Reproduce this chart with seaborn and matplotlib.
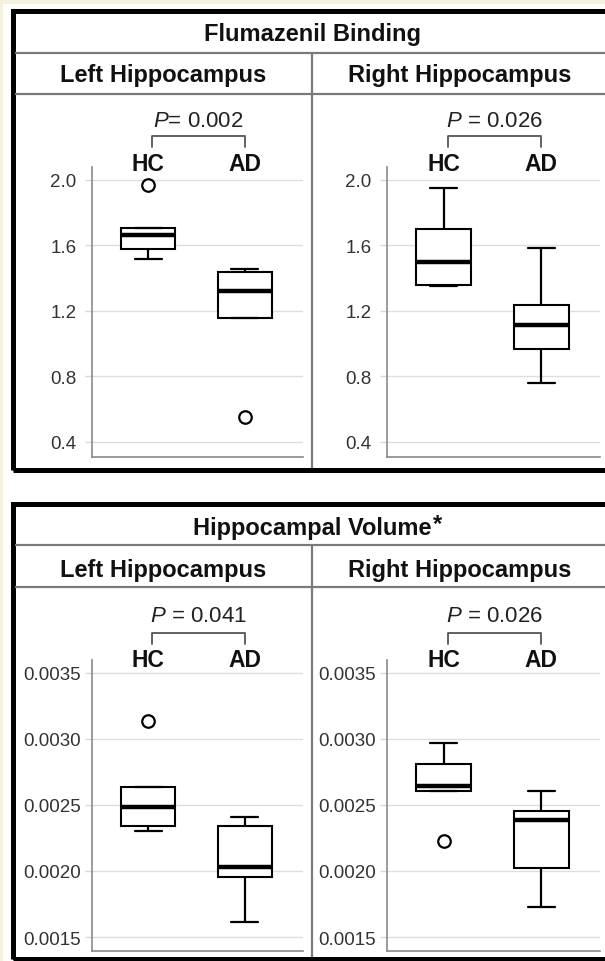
import matplotlib
matplotlib.use('Agg')
import matplotlib.pyplot as plt
import matplotlib.transforms as mtransforms
from matplotlib.patches import Rectangle
from matplotlib.lines import Line2D
import seaborn as sns
import pandas as pd

# ---------------- data ----------------
groups = ["HC", "AD"]
sides = ["Left Hippocampus", "Right Hippocampus"]
measures = ["Flumazenil Binding", "Hippocampal Volume"]

flu_left_hc = [1.517, 1.55, 1.58, 1.62, 1.664, 1.69, 1.707, 1.707, 1.97]
flu_left_ad = [0.553, 1.157, 1.157, 1.25, 1.32, 1.38, 1.44, 1.45, 1.456]
flu_right_hc = [1.35, 1.355, 1.36, 1.42, 1.50, 1.60, 1.70, 1.82, 1.951]
flu_right_ad = [0.76, 0.88, 0.968, 1.05, 1.114, 1.18, 1.236, 1.40, 1.585]

vol_left_hc = [0.002303, 0.00232, 0.002341, 0.00242, 0.002485, 0.00256, 0.002636, 0.002636, 0.003136]
vol_left_ad = [0.001614, 0.00180, 0.001955, 0.00199, 0.00203, 0.00220, 0.002341, 0.00238, 0.002409]
vol_right_hc = [0.002225, 0.002607, 0.002607, 0.00262, 0.002645, 0.00272, 0.002813, 0.00289, 0.002966]
vol_right_ad = [0.001729, 0.00190, 0.002019, 0.00220, 0.002385, 0.00242, 0.002454, 0.00253, 0.002607]

p_labels = [["$\\mathit{P}$= 0.002", "$\\mathit{P}$ = 0.026"],
            ["$\\mathit{P}$ = 0.041", "$\\mathit{P}$ = 0.026"]]

flu_ticks = [0.4, 0.8, 1.2, 1.6, 2.0]
vol_ticks = [0.0015, 0.0020, 0.0025, 0.0030, 0.0035]

series = {
    (0, 0): (flu_left_hc, flu_left_ad),
    (0, 1): (flu_right_hc, flu_right_ad),
    (1, 0): (vol_left_hc, vol_left_ad),
    (1, 1): (vol_right_hc, vol_right_ad),
}
rows = []
for (m, s), (hc, ad) in series.items():
    for g, vals in zip(groups, (hc, ad)):
        for v in vals:
            rows.append({"measure": measures[m], "side": sides[s], "group": g, "value": v})
df = pd.DataFrame(rows)

# ---------------- style ----------------
sns.set_theme(style="white")
plt.rcParams['font.family'] = ['Liberation Sans', 'DejaVu Sans']
plt.rcParams['mathtext.fontset'] = 'custom'
plt.rcParams['mathtext.it'] = 'Liberation Sans:italic'
plt.rcParams['mathtext.rm'] = 'Liberation Sans'

W, H = 605, 962
fig = plt.figure(figsize=(W / 100, H / 100), dpi=100, facecolor='white')


def fx(px):
    return px / W


def fy(py):
    return 1 - py / H


def pt(px):
    return px * 72 / 100


def hline(x0, x1, y, color, lw):
    fig.add_artist(Line2D([fx(x0), fx(x1)], [fy(y), fy(y)], transform=fig.transFigure,
                          color=color, lw=pt(lw), solid_capstyle='butt'))


def vline(x, y0, y1, color, lw):
    fig.add_artist(Line2D([fx(x), fx(x)], [fy(y0), fy(y1)], transform=fig.transFigure,
                          color=color, lw=pt(lw), solid_capstyle='butt'))


cream = '#F5F1E1'
fig.add_artist(Rectangle((0, 0), fx(3), 1, transform=fig.transFigure, color=cream, lw=0))
fig.add_artist(Rectangle((0, fy(5)), 1, 5 / H, transform=fig.transFigure, color=cream, lw=0))

sep = '#7a7a7a'
panels = [dict(top=11.5, bottom=470.5, title_sep=53.5, sub_sep=95, title_y=41, sub_y=82),
          dict(top=505, bottom=960, title_sep=546, sub_sep=588, title_y=535, sub_y=577)]
for p in panels:
    fig.add_artist(Rectangle((fx(12.5), fy(p['bottom'])), fx(610 - 12.5), (p['bottom'] - p['top']) / H,
                             transform=fig.transFigure, fill=False, edgecolor='black', lw=pt(5)))
    hline(15, 605, p['title_sep'], sep, 2.2)
    hline(15, 605, p['sub_sep'], sep, 2.2)
    vline(312, p['title_sep'], p['bottom'] - 2, sep, 2.2)

# titles
fig.text(fx(312), fy(panels[0]['title_y']), measures[0], ha='center', va='baseline',
         fontsize=17, fontweight='bold', color='#111')
t2 = fig.text(fx(312), fy(panels[1]['title_y']), measures[1], ha='center', va='baseline',
              fontsize=17, fontweight='bold', color='#111')
fig.canvas.draw()
bb = t2.get_window_extent(renderer=fig.canvas.get_renderer())
fig.text(bb.x1 / W + fx(1.5), fy(panels[1]['title_y'] - 4), "*", ha='left', va='baseline',
         fontsize=17, fontweight='bold', color='#111')

col_centers = [163, 460]
for p in panels:
    for c, s in zip(col_centers, sides):
        fig.text(fx(c), fy(p['sub_y']), s, ha='center', va='baseline',
                 fontsize=17, fontweight='bold', color='#111')

# axes geometry (pixels)
col_x = [(92, 303), (387, 600)]
row_y = [(168, 458), (661, 952)]
ylims = [(0.308, 2.079), (0.001394, 0.003598)]
yticks = [flu_ticks, vol_ticks]
yfmt = ["{:.1f}", "{:.4f}"]
label_base = [171, 667]
bracket_y = [(137, 148), (634, 645)]
p_base = [127, 622]
tick_pad = [6, 3]

for r in range(2):
    for c in range(2):
        x0, x1 = col_x[c]
        y0, y1 = row_y[r]
        ax = fig.add_axes([fx(x0), fy(y1), (x1 - x0) / W, (y1 - y0) / H])
        sub = df[(df.measure == measures[r]) & (df.side == sides[c])]
        sns.boxplot(data=sub, x="group", y="value", order=groups, ax=ax,
                    width=0.56, color='white', linecolor='black', linewidth=1.5,
                    medianprops=dict(linewidth=3.2, color='black'),
                    flierprops=dict(marker='o', markersize=9, markerfacecolor='white',
                                    markeredgecolor='black', markeredgewidth=1.6),
                    whiskerprops=dict(linewidth=1.6), capprops=dict(linewidth=1.6))
        ax.set_xlim(-0.58, 1.6)
        ax.set_ylim(*ylims[r])
        ax.set_yticks(yticks[r])
        ax.set_yticklabels([yfmt[r].format(v) for v in yticks[r]])
        ax.set_xlabel('')
        ax.set_ylabel('')
        ax.tick_params(axis='x', length=0, labelbottom=False)
        ax.tick_params(axis='y', length=5, width=1, color='#d8d8d8', labelsize=13.5,
                       labelcolor='#333333', pad=tick_pad[r], left=True)
        ax.yaxis.grid(True, color='#dedede', lw=1)
        ax.set_axisbelow(True)
        for sp in ['top', 'right']:
            ax.spines[sp].set_visible(False)
        for sp in ['left', 'bottom']:
            ax.spines[sp].set_color('#8a8a8a')
            ax.spines[sp].set_linewidth(1.2)
        ax.set_facecolor('white')

        tr = mtransforms.blended_transform_factory(ax.transData, fig.transFigure)
        for i, g in enumerate(groups):
            ax.text(i, fy(label_base[r]), g, transform=tr, ha='center', va='baseline',
                    fontsize=16.5, fontweight='bold', color='#111', clip_on=False)
        bx0, bx1 = 0.04, 1.0
        by0, by1 = bracket_y[r]
        ax.add_line(Line2D([bx0, bx0, bx1, bx1], [fy(by1), fy(by0), fy(by0), fy(by1)],
                           transform=tr, color='#555555', lw=1.3, clip_on=False))
        ax.text((bx0 + bx1) / 2, fy(p_base[r]), p_labels[r][c], transform=tr,
                ha='center', va='baseline', fontsize=16, color='#222', clip_on=False)

fig.savefig('out.png', dpi=100, facecolor=fig.get_facecolor())
